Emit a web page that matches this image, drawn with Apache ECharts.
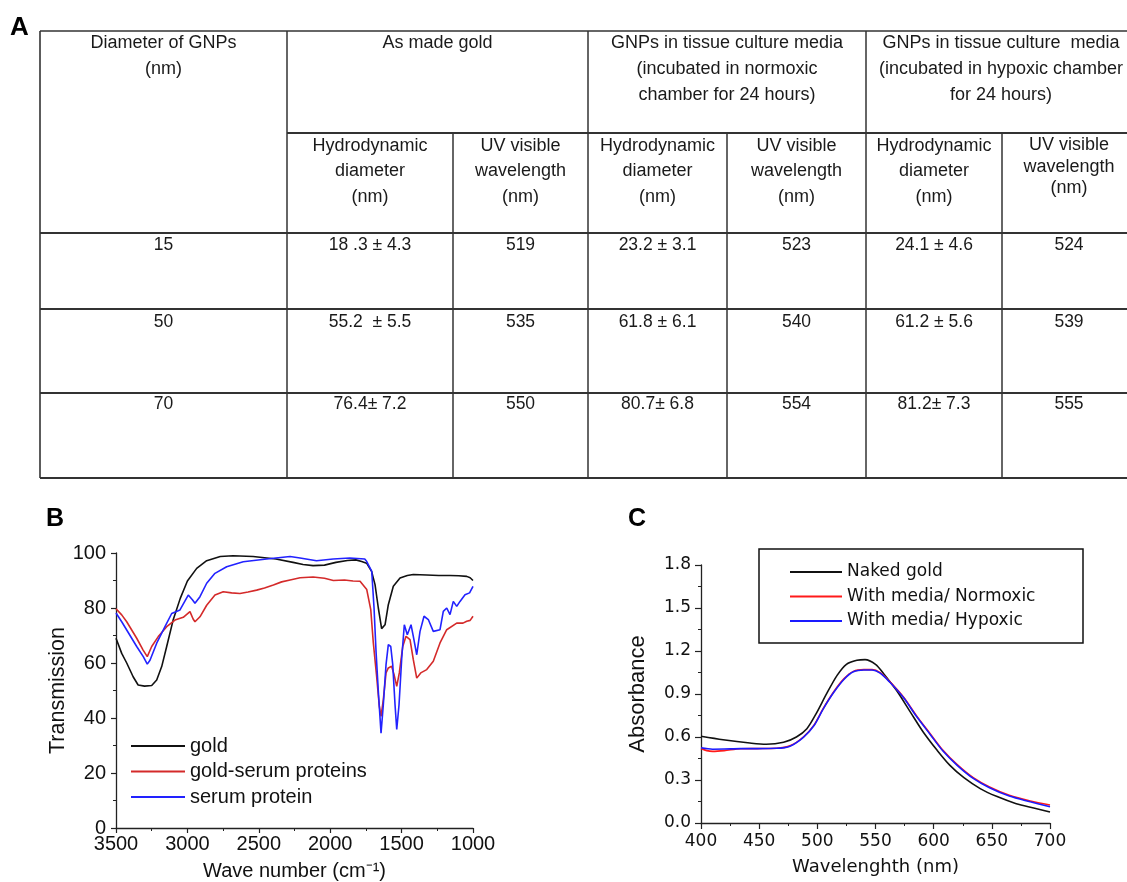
<!DOCTYPE html>
<html>
<head>
<meta charset="utf-8">
<script src="https://cdn.jsdelivr.net/npm/echarts@6.0.0/dist/echarts.min.js"></script>
<style>
html, body { margin: 0; padding: 0; background: #fff; }
#main { width: 1127px; height: 882px; }
</style>
</head>
<body>
<div id="main"></div>
<script>
// ---- panel A: table ----
var groupHeads = ['Diameter of GNPs\n(nm)', 'As made gold',
    'GNPs in tissue culture media\n(incubated in normoxic\nchamber for 24 hours)',
    'GNPs in tissue culture  media\n(incubated in hypoxic chamber\nfor 24 hours)'];
var subHeads = ['Hydrodynamic\ndiameter\n(nm)', 'UV visible\nwavelength\n(nm)'];
var diameters = ['15', '50', '70'];
var madeHD = ['18 .3 \u00b1 4.3', '55.2  \u00b1 5.5', '76.4\u00b1 7.2'];
var madeUV = ['519', '535', '550'];
var normHD = ['23.2 \u00b1 3.1', '61.8 \u00b1 6.1', '80.7\u00b1 6.8'];
var normUV = ['523', '540', '554'];
var hypoHD = ['24.1 \u00b1 4.6', '61.2 \u00b1 5.6', '81.2\u00b1 7.3'];
var hypoUV = ['524', '539', '555'];

// ---- panel B: FTIR ----
var goldWave = [3500,3460,3425,3380,3345,3300,3250,3215,3180,3145,3100,3050,3000,2935,2865,2770,2680,2540,2380,2260,2190,2120,2040,1960,1880,1820,1780,1745,1710,1686,1663,1640,1616,1593,1558,1511,1460,1418,1324,1240,1161,1100,1044,1020,1000];
var goldTrans = [69,63.5,60,55,52,51.6,51.8,53.8,58.7,66,75.6,83.5,89.8,94.4,97.2,98.7,99,98.7,97.8,96.6,95.8,95.4,95.6,96.6,97.3,97.5,96.9,96.3,93.3,88.5,80,72.5,73.9,81.2,87.9,90.9,91.8,92.2,92,91.8,91.8,91.7,91.5,91,90];
var gsWave = [3500,3460,3425,3390,3355,3310,3281,3250,3204,3145,3087,3029,2982,2960,2947,2912,2865,2807,2749,2690,2632,2575,2515,2460,2398,2340,2281,2211,2120,2040,1978,1900,1840,1791,1744,1716,1698,1675,1656,1644,1628,1609,1593,1570,1553,1534,1516,1492,1469,1441,1418,1394,1366,1324,1278,1231,1184,1114,1070,1044,1020,1000];
var gsTrans = [79.7,77.5,75,72,69,64.7,62.3,66,69.6,73.2,75.6,76.6,78.7,76,75,76.8,81,84.7,85.9,85.5,85.3,85.8,86.5,87.3,88.4,89.5,90.2,91,91.3,90.8,90,90.2,89.8,89.7,86.7,79.4,67.3,55.2,44.2,40.6,46.7,56.4,58.2,58.8,55.8,51.5,56.4,66,69.7,68.5,61.2,54.5,56.4,57.6,60.6,67.3,72.1,74.5,74.5,75.2,75.5,77];
var spWave = [3500,3460,3425,3390,3355,3309,3281,3262,3215,3157,3110,3052,2994,2965,2947,2912,2865,2807,2725,2609,2445,2281,2211,2096,1979,1863,1758,1744,1709,1693,1679,1663,1644,1628,1609,1593,1576,1562,1546,1534,1518,1499,1481,1460,1434,1418,1394,1371,1343,1313,1278,1231,1208,1184,1161,1138,1114,1091,1056,1024,1000];
var spTrans = [78.2,75,72,69,66,62.3,59.6,61,67.2,73.2,78,79.3,84.7,83,81.7,84.1,89,92.6,95,96.8,97.8,98.7,98.2,97.2,97.8,98.2,97.8,96.9,93.3,80,64.2,49.7,34.5,44.8,59.4,66.7,66,59.4,44.8,35.8,44.8,61.8,73.9,70.3,73.9,69.7,63,71.5,77,75.8,71.5,72.1,78.8,80,77.6,82.4,80.6,82.4,84.8,85.5,87.9];

// ---- panel C: UV-vis ----
var nakedWl = [400,419,442,456,471,482,491,499,508,517,525,534,541,550,557,568,580,591,603,614,626,640,654,671,686,700];
var nakedAbs = [0.605,0.581,0.558,0.549,0.563,0.6,0.658,0.763,0.902,1.03,1.107,1.135,1.14,1.107,1.042,0.926,0.774,0.635,0.507,0.402,0.316,0.24,0.186,0.135,0.105,0.077];
var normWl = [400,405,410,420,434,448,465,477,488,497,505,514,523,531,540,547,554,562,574,585,597,608,620,634,648,665,683,700];
var normAbs = [0.52,0.505,0.5,0.505,0.518,0.519,0.521,0.54,0.6,0.681,0.798,0.914,1.007,1.058,1.07,1.07,1.049,0.988,0.879,0.751,0.623,0.507,0.409,0.316,0.251,0.193,0.153,0.125];
var hypoWl = [400,410,420,434,448,465,477,488,497,505,514,523,531,540,547,554,562,574,585,597,608,620,634,648,665,683,700];
var hypoAbs = [0.525,0.515,0.516,0.519,0.519,0.521,0.538,0.597,0.678,0.795,0.91,1.003,1.055,1.067,1.067,1.046,0.985,0.875,0.746,0.618,0.502,0.404,0.311,0.246,0.188,0.148,0.113];

function zip(xs, ys) {
    var out = [];
    for (var i = 0; i < xs.length; i++) out.push([xs[i], ys[i]]);
    return out;
}

// table geometry
var colEdges = [40, 287, 453, 588, 727, 866, 1002, 1136];
var groupEdges = [40, 287, 588, 866, 1136];
var rowLines = [233, 309, 393, 478];
var tableTop = 31, subTop = 133, rightX = 1127;
var lineColor = '#333';
var textColor = '#1a1a1a';

var graphics = [];
function line(x1, y1, x2, y2, w) {
    graphics.push({ type: 'line', silent: true,
        shape: { x1: x1, y1: y1, x2: x2, y2: y2 },
        style: { stroke: lineColor, lineWidth: w } });
}
function text(str, x, y, opts) {
    opts = opts || {};
    graphics.push({ type: 'text', silent: true, x: x, y: y,
        style: { text: str, fill: opts.color || textColor, fontSize: opts.size || 18,
            fontFamily: opts.family || 'Liberation Sans', fontWeight: opts.weight || 'normal',
            align: opts.align || 'center', verticalAlign: opts.valign || 'top',
            lineHeight: opts.lh } });
}

line(40, tableTop, rightX, tableTop, 1.6);
line(40, tableTop, 40, 478, 1.6);
[287, 588, 866].forEach(function (x) { line(x, tableTop, x, 478, 1.5); });
[453, 727, 1002].forEach(function (x) { line(x, subTop, x, 478, 1.5); });
line(287, subTop, rightX, subTop, 1.8);
rowLines.forEach(function (y) { line(40, y, rightX, y, 2); });

for (var g = 0; g < groupHeads.length; g++) {
    text(groupHeads[g], (groupEdges[g] + groupEdges[g + 1]) / 2, 30.5, { lh: 25.8 });
}
for (var c = 1; c < 7; c++) {
    var cx = (colEdges[c] + colEdges[c + 1]) / 2;
    if (c === 6) text(subHeads[1], cx, 134.2, { lh: 21.6 });
    else text(subHeads[(c - 1) % 2], cx, 133, { lh: 25.5 });
}
var cols = [diameters, madeHD, madeUV, normHD, normUV, hypoHD, hypoUV];
var rowCenters = [245.5, 322, 404];
for (var k = 0; k < cols.length; k++) {
    var ccx = (colEdges[k] + colEdges[k + 1]) / 2;
    for (var r = 0; r < 3; r++) {
        text(cols[k][r], ccx, rowCenters[r], { size: 17.5, valign: 'middle' });
    }
}

// panel letters
text('A', 10, 27.5, { size: 26, weight: 'bold', align: 'left', valign: 'middle', color: '#000' });
text('B', 46, 519, { size: 25, weight: 'bold', align: 'left', valign: 'middle', color: '#000' });
text('C', 628, 519, { size: 25, weight: 'bold', align: 'left', valign: 'middle', color: '#000' });

// legend box for C
graphics.push({ type: 'rect', silent: true, shape: { x: 759, y: 549, width: 324, height: 94 },
    style: { fill: 'none', stroke: '#111', lineWidth: 1.5 } });

var axisCol = '#222';
function axisBase(extra) {
    var a = {
        axisLine: { show: true, onZero: false, lineStyle: { color: axisCol, width: 1.3 } },
        axisTick: { show: true, inside: false, length: 5, lineStyle: { color: axisCol, width: 1.2 } },
        minorTick: { show: true, splitNumber: 2, length: 3, lineStyle: { color: axisCol, width: 1 } },
        splitLine: { show: false },
        minorSplitLine: { show: false }
    };
    for (var key in extra) a[key] = extra[key];
    return a;
}

var fontB = 'Liberation Sans';
var fontC = 'DejaVu Sans';

var option = {
    animation: false,
    backgroundColor: '#fff',
    graphic: { elements: graphics },
    legend: [{
        orient: 'vertical', left: 131, top: 736, padding: 0,
        itemWidth: 54, itemHeight: 2, itemGap: 5.5, icon: 'rect',
        textStyle: { fontSize: 20, fontFamily: fontB, color: '#111' },
        data: ['gold', 'gold-serum proteins', 'serum protein']
    }, {
        orient: 'vertical', left: 790, top: 563.5, padding: 0,
        itemWidth: 52, itemHeight: 2, itemGap: 7.5, icon: 'rect',
        textStyle: { fontSize: 17, fontFamily: fontC, color: '#111' },
        data: ['Naked gold', 'With media/ Normoxic', 'With media/ Hypoxic']
    }],
    grid: [
        { left: 116, right: 654, top: 553, bottom: 54 },
        { left: 701, right: 77, top: 565, bottom: 59 }
    ],
    xAxis: [
        axisBase({
            type: 'value', gridIndex: 0, inverse: true, min: 1000, max: 3500, interval: 500,
            axisLabel: { margin: 6, fontSize: 20, fontFamily: fontB, color: '#111',
                formatter: function (v) { return String(v); } },
            name: 'Wave number (cm\u207b\u00b9)', nameLocation: 'middle', nameGap: 33,
            nameTextStyle: { fontSize: 20, fontFamily: fontB, color: '#111' }
        }),
        axisBase({
            type: 'value', gridIndex: 1, min: 400, max: 700, interval: 50,
            axisTick: { show: true, length: 6, lineStyle: { color: axisCol, width: 1.2 } },
            axisLabel: { margin: 10, fontSize: 17, fontFamily: fontC, color: '#111' },
            name: 'Wavelenghth (nm)', nameLocation: 'middle', nameGap: 35,
            nameTextStyle: { fontSize: 18, fontFamily: fontC, color: '#111' }
        })
    ],
    yAxis: [
        axisBase({
            type: 'value', gridIndex: 0, min: 0, max: 100, interval: 20,
            axisLabel: { margin: 10, fontSize: 20, fontFamily: fontB, color: '#111' },
            name: 'Transmission', nameLocation: 'middle', nameGap: 43,
            nameTextStyle: { fontSize: 21.5, fontFamily: fontB, color: '#111' }
        }),
        axisBase({
            type: 'value', gridIndex: 1, min: 0, max: 1.8, interval: 0.3,
            axisTick: { show: true, length: 6, lineStyle: { color: axisCol, width: 1.2 } },
            axisLabel: { margin: 10, fontSize: 17, fontFamily: fontC, color: '#111',
                formatter: function (v) { return v.toFixed(1); } },
            name: 'Absorbance', nameLocation: 'middle', nameGap: 52,
            nameTextStyle: { fontSize: 22, fontFamily: fontB, color: '#111' }
        })
    ],
    series: [
        { name: 'gold', type: 'line', xAxisIndex: 0, yAxisIndex: 0, symbol: 'none',
          color: '#111', lineStyle: { width: 1.6 }, data: zip(goldWave, goldTrans) },
        { name: 'gold-serum proteins', type: 'line', xAxisIndex: 0, yAxisIndex: 0, symbol: 'none',
          color: '#d42a2a', lineStyle: { width: 1.6 }, data: zip(gsWave, gsTrans) },
        { name: 'serum protein', type: 'line', xAxisIndex: 0, yAxisIndex: 0, symbol: 'none',
          color: '#2222ff', lineStyle: { width: 1.6 }, data: zip(spWave, spTrans) },
        { name: 'Naked gold', type: 'line', xAxisIndex: 1, yAxisIndex: 1, symbol: 'none', smooth: 0.3,
          color: '#111', lineStyle: { width: 1.6 }, data: zip(nakedWl, nakedAbs) },
        { name: 'With media/ Normoxic', type: 'line', xAxisIndex: 1, yAxisIndex: 1, symbol: 'none', smooth: 0.3,
          color: '#ff1a1a', lineStyle: { width: 1.6 }, data: zip(normWl, normAbs) },
        { name: 'With media/ Hypoxic', type: 'line', xAxisIndex: 1, yAxisIndex: 1, symbol: 'none', smooth: 0.3,
          color: '#1a1aff', lineStyle: { width: 1.6 }, data: zip(hypoWl, hypoAbs) }
    ]
};

var myChart = echarts.init(document.getElementById('main'));
myChart.setOption(option);
</script>
</body>
</html>
